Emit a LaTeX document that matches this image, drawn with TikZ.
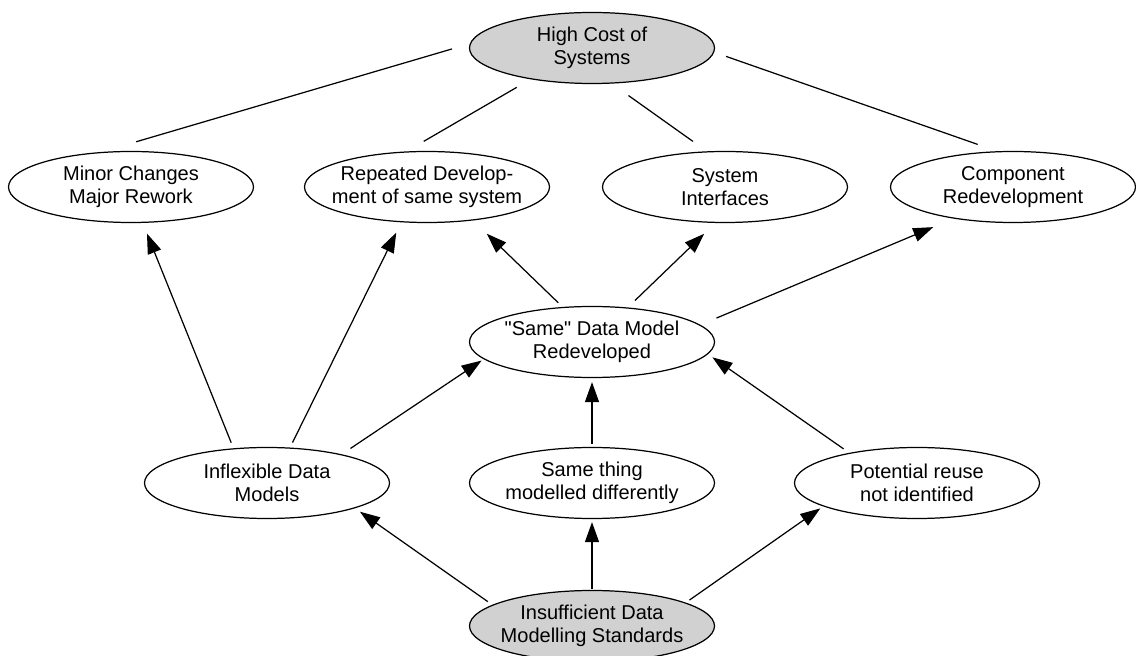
\documentclass[tikz,border=0pt]{standalone}
\usepackage{fontspec}
\setmainfont{Liberation Sans}[Ligatures=TeXOff]
\usetikzlibrary{arrows.meta, shapes.geometric}

\begin{document}
\begin{tikzpicture}[
  font=\fontsize{11.4}{13.1}\selectfont,
  cause/.style={draw, ellipse, line width=0.7pt, align=center, minimum width=4.9cm, minimum height=1.42cm, inner xsep=-0.25cm, inner ysep=0pt},
  root/.style={cause, fill=black!18},
  arr/.style={-{Triangle[length=0.4cm, width=0.28cm]}, line width=0.7pt},
  link/.style={line width=0.7pt}
]
\useasboundingbox (0,0) rectangle (22.72,13.1);
\node[root] (cost) at (11.84,12.14) {High Cost of\\Systems};
\node[cause] (minor) at (2.62,9.36) {Minor Changes\\Major Rework};
\node[cause] (repeat) at (8.54,9.36) {Repeated Develop-\\ment of same system};
\node[cause] (iface) at (14.5,9.36) {System\\Interfaces};
\node[cause] (comp) at (20.26,9.36) {Component\\Redevelopment};
\node[cause] (same) at (11.84,6.26) {"Same" Data Model\\Redeveloped};
\node[cause] (inflex) at (5.34,3.44) {Inflexible Data\\Models};
\node[cause] (diff) at (11.84,3.44) {Same thing\\modelled differently};
\node[cause] (reuse) at (18.34,3.44) {Potential reuse\\not identified};
\node[root] (std) at (11.84,0.58) {Insufficient Data\\Modelling Standards};
% plain links up to the top
\draw[link, shorten <=0.37cm, shorten >=0.72cm] (cost.178) -- (minor.130);
\draw[link, shorten <=0.32cm, shorten >=0.40cm] (cost.207) -- (repeat.120);
\draw[link, shorten <=0.41cm, shorten >=0.34cm] (cost.299) -- (iface.117);
\draw[link, shorten <=0.25cm, shorten >=0.41cm] (cost.358) -- (comp.114);
% middle layer
\draw[arr, shorten <=0.12cm, shorten >=0.23cm] (inflex.134) -- (minor.288);
\draw[arr, shorten <=0.11cm, shorten >=0.23cm] (inflex.57) -- (repeat.234);
\draw[arr, shorten <=0.21cm, shorten >=0.05cm] (inflex.21) -- (same.189);
\draw[arr, shorten <=0.05cm, shorten >=0.08cm] (diff.north) -- (same.south);
\draw[arr, shorten <=0.14cm, shorten >=0.11cm] (reuse.156) -- (same.354);
\draw[arr, shorten <=0.12cm, shorten >=0.38cm] (same.130) -- (repeat.324);
\draw[arr, shorten <=0.20cm, shorten >=0.31cm] (same.44) -- (iface.255);
\draw[arr, shorten <=0.35cm, shorten >=0.44cm] (same.9) -- (comp.208);
% from the standards
\draw[arr, shorten <=0.11cm, shorten >=0.12cm] (std.168) -- (inflex.344);
\draw[arr, shorten <=0.02cm, shorten >=0.06cm] (std.north) -- (diff.south);
\draw[arr, shorten <=0.09cm, shorten >=0.07cm] (std.14) -- (reuse.194);
\end{tikzpicture}
\end{document}
